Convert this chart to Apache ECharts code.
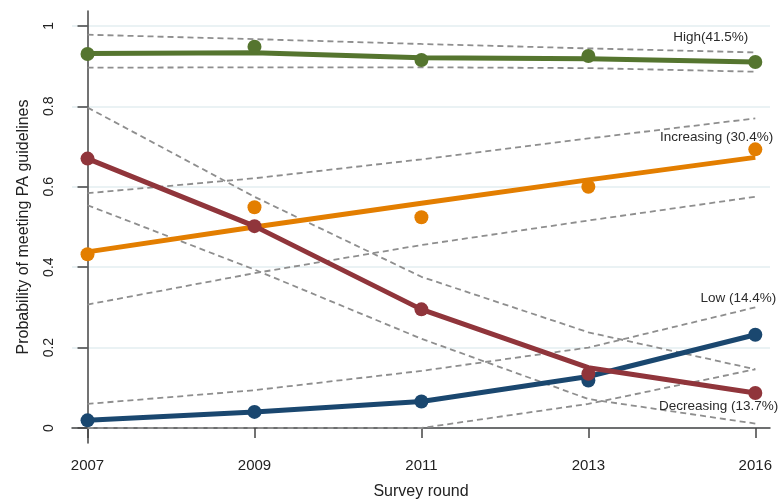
<!DOCTYPE html>
<html>
<head>
<meta charset="utf-8">
<script src="https://cdn.jsdelivr.net/npm/echarts@6/dist/echarts.min.js"></script>
<style>
html, body { margin: 0; padding: 0; background: #fff; }
#main { width: 779px; height: 501px; }
</style>
</head>
<body>
<div id="main"></div>
<script>
//横轴 / 纵轴刻度
var years = ['2007', '2009', '2011', '2013', '2016'];
var yTicks = [0, 0.2, 0.4, 0.6, 0.8, 1];

//拟合轨迹
var lowFit = [0.019, 0.040, 0.066, 0.128, 0.232];
var highFit = [0.931, 0.933, 0.921, 0.918, 0.910];
var incFit = [0.438, 0.500, 0.559, 0.617, 0.673];
var decFit = [0.670, 0.502, 0.295, 0.150, 0.087];

//观测值
var lowObs = [0.019, 0.040, 0.066, 0.118, 0.232];
var highObs = [0.930, 0.948, 0.915, 0.925, 0.910];
var incObs = [0.432, 0.549, 0.524, 0.600, 0.693];
var decObs = [0.670, 0.502, 0.295, 0.135, 0.087];

//置信区间
var lowUp = [0.060, 0.094, 0.142, 0.200, 0.300];
var lowLo = [0, 0, 0, 0.060, 0.146];
var highUp = [0.978, 0.967, 0.955, 0.944, 0.934];
var highLo = [0.896, 0.897, 0.897, 0.895, 0.886];
var incUp = [0.584, 0.621, 0.668, 0.720, 0.770];
var incLo = [0.307, 0.385, 0.455, 0.516, 0.575];
var decUp = [0.797, 0.575, 0.376, 0.238, 0.146];
var decLo = [0.554, 0.394, 0.222, 0.072, 0.011];

var groupNames = ['Low (14.4%)', 'High(41.5%)', 'Increasing (30.4%)', 'Decreasing (13.7%)'];

var FONT = '"Liberation Sans", Arial, sans-serif';

function pts(arr) {
    return arr.map(function (v, i) { return [i, v]; });
}

function ciLine(arr) {
    return {
        type: 'line',
        data: pts(arr),
        symbol: 'none',
        silent: true,
        z: 1,
        lineStyle: { color: '#8e8e8e', width: 1.8, type: [6, 4] }
    };
}

function fitLine(arr, color, name, labelAt, dx) {
    return {
        type: 'line',
        name: name,
        data: pts(arr),
        symbol: 'none',
        z: 3,
        lineStyle: { color: color, width: 5 },
        markPoint: {
            symbol: 'circle',
            symbolSize: 0,
            silent: true,
            label: {
                show: true,
                position: 'left',
                distance: 0,
                offset: [dx, 0],
                formatter: name,
                color: '#2b2b2b',
                fontSize: 13.5,
                fontFamily: FONT
            },
            data: [{ coord: [4, labelAt] }]
        }
    };
}

function obsDots(arr, color) {
    return {
        type: 'scatter',
        data: pts(arr),
        symbol: 'circle',
        symbolSize: 14,
        z: 4,
        itemStyle: { color: color, opacity: 1 }
    };
}

var NAVY = '#1a476f', MAROON = '#90353b', GREEN = '#55752f', ORANGE = '#e37e00';

window.onload = function () {

    var option = {
        animation: false,
        backgroundColor: '#fff',
        grid: { left: 72, right: 9, top: 11, bottom: 58, outerBoundsMode: 'none', containLabel: false },
        xAxis: {
            type: 'value',
            min: -0.093,
            max: 4.088,
            name: 'Survey round',
            nameLocation: 'middle',
            nameGap: 41,
            nameTextStyle: { fontSize: 16, color: '#222', fontFamily: FONT },
            axisLine: { show: true, lineStyle: { color: '#444', width: 1.5 } },
            axisTick: { show: true, length: 10, customValues: [0, 1, 2, 3, 4], lineStyle: { color: '#444', width: 1.5 } },
            axisLabel: {
                customValues: [0, 1, 2, 3, 4],
                formatter: function (v) { return years[Math.round(v)]; },
                fontSize: 15,
                color: '#222',
                margin: 15,
                fontFamily: FONT
            },
            splitLine: { show: false }
        },
        yAxis: {
            type: 'value',
            min: -0.0373,
            max: 1.037,
            name: 'Probability of meeting PA guidelines',
            nameLocation: 'middle',
            nameGap: 40,
            nameTextStyle: { fontSize: 16, color: '#222', fontFamily: FONT },
            axisLine: { show: true, lineStyle: { color: '#444', width: 1.5 } },
            axisTick: { show: true, length: 10, customValues: yTicks, lineStyle: { color: '#444', width: 1.5 } },
            axisLabel: {
                customValues: yTicks,
                rotate: 90,
                fontSize: 14,
                color: '#222',
                margin: 16,
                fontFamily: FONT
            },
            splitLine: { show: true, lineStyle: { color: '#e3eef0', width: 1.5 } }
        },
        series: [
            ciLine(lowUp), ciLine(lowLo),
            ciLine(highUp), ciLine(highLo),
            ciLine(incUp), ciLine(incLo),
            ciLine(decUp), ciLine(decLo),
            fitLine(lowFit, NAVY, groupNames[0], 0.322, 21),
            obsDots(lowObs, NAVY),
            fitLine(highFit, GREEN, groupNames[1], 0.972, -7),
            obsDots(highObs, GREEN),
            fitLine(incFit, ORANGE, groupNames[2], 0.724, 18),
            obsDots(incObs, ORANGE),
            fitLine(decFit, MAROON, groupNames[3], 0.054, 23),
            obsDots(decObs, MAROON)
        ]
    };

    var chart = echarts.init(document.getElementById('main'));
    chart.setOption(option);
};
</script>
</body>
</html>
